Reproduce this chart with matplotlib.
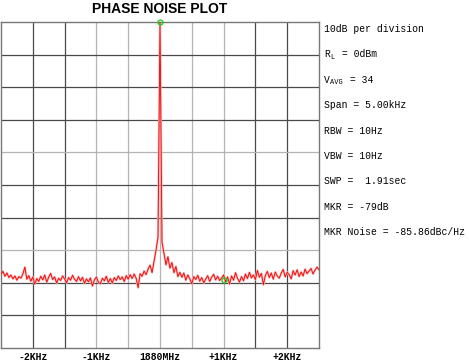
import numpy as np
import matplotlib
matplotlib.use('Agg')
import matplotlib.pyplot as plt

# offset from carrier, Hz (2 px per sample on the original)
freq_hz = np.linspace(-2500, 2500, 161)

level_db = [
    -77.2, -76.5, -78.0, -77.0, -78.4, -77.6, -78.8, -77.9, -79.2, -78.1,
    -78.6, -77.3, -75.2, -78.9, -77.8, -79.5, -78.2, -80.4, -78.7, -79.6,
    -78.0, -79.1, -77.6, -79.8, -78.3, -77.1, -79.0, -78.2, -80.1, -78.6,
    -79.3, -77.9, -78.8, -80.0, -78.4, -79.2, -77.7, -78.9, -79.6, -78.1,
    -79.4, -78.3, -80.2, -78.8, -79.7, -78.5, -81.0, -79.1, -78.2, -79.8,
    -80.3, -78.6, -79.4, -78.0, -79.9, -78.7, -80.1, -78.4, -79.3, -77.9,
    -79.0, -78.2, -79.6, -77.8, -78.9, -77.5, -78.7, -77.3, -78.6, -81.5,
    -77.2, -78.0, -76.4, -77.5, -75.8, -74.6, -76.9, -73.5, -70.0, -66.0,
    0.0,
    -67.5, -71.0, -74.5, -72.0, -75.5, -73.8, -76.9, -75.0, -78.1, -76.8,
    -78.3, -77.0, -79.2, -77.6, -78.8, -80.3, -78.1, -79.0, -77.7, -79.5,
    -78.4, -80.0, -78.9, -77.8, -79.6, -78.3, -77.4, -79.1, -78.0, -79.3,
    -78.5, -77.6, -79.7, -78.2, -80.4, -77.9, -79.2, -76.9, -78.6, -79.8,
    -78.1, -79.4, -77.3, -78.7, -76.8, -78.5, -77.6, -79.0, -76.2, -78.3,
    -77.1, -80.6, -77.8, -76.5, -78.4, -77.0, -78.9, -76.7, -77.9, -78.6,
    -77.0, -75.9, -78.2, -76.8, -77.5, -78.8, -76.3, -77.6, -76.0, -78.1,
    -76.7, -77.9, -75.8, -77.2, -76.4, -75.6, -77.3, -76.1, -75.2, -76.0,
]

marker_hz = [0, 1000]
marker_db = [0.0, -79.0]

tick_hz = [-2000, -1000, 0, 1000, 2000]
tick_labels = ['-2KHz', '-1KHz', '1880MHz', '+1KHz', '+2KHz']

info_lines = [
    ('10dB per division', None, None),
    ('R', 'L', ' = 0dBm'),
    ('V', 'AVG', ' = 34'),
    ('Span = 5.00kHz', None, None),
    ('RBW = 10Hz', None, None),
    ('VBW = 10Hz', None, None),
    ('SWP =  1.91sec', None, None),
    ('MKR = -79dB', None, None),
    ('MKR Noise = -85.86dBc/Hz', None, None),
]

W, H = 469, 364
fig = plt.figure(figsize=(W / 100, H / 100), dpi=100)
ax = fig.add_axes([1 / W, 1 - 348 / H, 318 / W, 326 / H])

ax.set_xlim(-2500, 2500)
ax.set_ylim(-100, 0)

# grid
dark, light = '#4a4a4a', '#b4b4b4'
for f in np.arange(-2000, 2001, 500):
    c = light if -1000 <= f <= 1000 else dark
    ax.axvline(f, color=c, lw=0.9, zorder=1)
for d in np.arange(-90, 0, 10):
    c = light if d in (-40, -70) else dark
    ax.axhline(d, color=c, lw=0.9, zorder=1)

ax.plot(freq_hz, level_db, color='#ffb0b0', lw=1.6, zorder=2)
ax.plot(freq_hz, level_db, color='#ee0000', lw=0.6, zorder=3)
ax.plot(marker_hz, marker_db, 'o', ms=3.5, mfc='none', mec='#22cc22',
        mew=1.0, zorder=4, clip_on=False)

ax.set_xticks(tick_hz)
ax.set_xticklabels(tick_labels, family='Liberation Mono', fontsize=7,
                   fontweight='bold')
ax.set_yticks([])
ax.tick_params(axis='x', length=0, pad=3)
for s in ax.spines.values():
    s.set_color('#777777')
    s.set_linewidth(1.0)

fig.text(160 / W, 1 - 9 / H, 'PHASE NOISE PLOT', ha='center', va='center',
         family='Liberation Sans', fontweight='bold', fontsize=10)

# info column on the right
fs = 7.0
cw = 5.85
for i, (main, sub, rest) in enumerate(info_lines):
    y = 1 - (29 + i * 25.4) / H
    fig.text(324 / W, y, main, ha='left', va='center',
             family='Liberation Mono', fontsize=fs)
    if sub:
        xs = 324 + cw * len(main)
        fig.text(xs / W, y - 3 / H, sub, ha='left', va='center',
                 family='Liberation Mono', fontsize=5)
        xr = xs + max(cw, 4.5 * len(sub) + 1)
        fig.text(xr / W, y, rest, ha='left', va='center',
                 family='Liberation Mono', fontsize=fs)

fig.savefig('out.png', dpi=100)
